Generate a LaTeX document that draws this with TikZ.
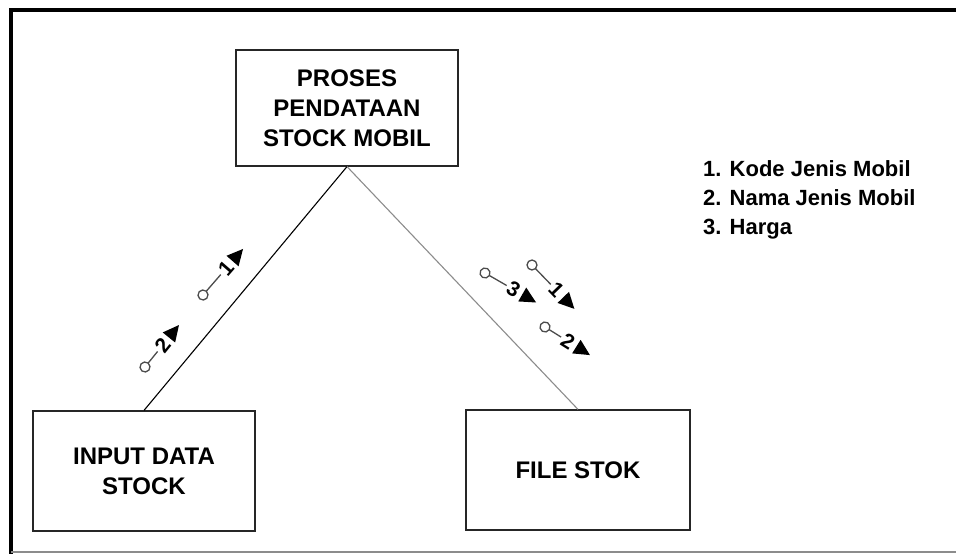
\documentclass[tikz,border=0pt]{standalone}
\usepackage{fontspec}
\setmainfont{Liberation Sans}
\usetikzlibrary{calc}
\begin{document}
\begin{tikzpicture}[x=1pt,y=-1pt,
  box/.style={draw=black!85, line width=1.2pt, rectangle, inner sep=0pt,
    font=\fontsize{24}{30}\selectfont\bfseries, align=center},
  flowline/.style={line width=1.1pt},
  couple gap/.store in=\cgap, couple gap=24pt,
  couple/.pic={
    \draw[black!70, line width=1.3pt] (0,0) circle (5pt);
    \draw[black!70, line width=1.3pt] (5pt,0) -- (\cgap,0);
    \node[font=\fontsize{21}{21}\selectfont\bfseries, inner sep=0pt, transform shape]
      (-num) at ($(\cgap,0)+(8pt,0)$) {\tikzpictext};
    \fill ($(\cgap,0)+(18pt,-8pt)$) -- ($(\cgap,0)+(34pt,0)$)
      -- ($(\cgap,0)+(18pt,8pt)$) -- cycle;
  }]
\useasboundingbox (0,0) rectangle (956,556);

% outer frame (open on the right)
\draw[line width=3.5pt, line cap=rect] (956,10) -- (11,10) -- (11,552);
\draw[black!45, line width=1.5pt] (11,552) -- (956,552);

% process and data boxes
\node[box, minimum width=222pt, minimum height=116pt] (proc) at (347,108)
  {PROSES\\PENDATAAN\\STOCK MOBIL};
\node[box, minimum width=222pt, minimum height=120pt] (inp) at (144,471)
  {INPUT DATA\\STOCK};
\node[box, minimum width=224pt, minimum height=120pt] (file) at (578,470)
  {FILE STOK};

% connectors
\draw[flowline, black] (inp.north) -- (proc.south);
\draw[flowline, black!45] (proc.south) -- (file.north);

% data couples
\pic (l2) [rotate=51, pic text=2, couple gap=20pt] at (145,367) {couple};
\pic (l1) [rotate=49, pic text=1, couple gap=27pt] at (203,295) {couple};
\pic (r3) [rotate=-30, pic text=3, couple gap=25pt] at (485,273) {couple};
\pic (r1) [rotate=-46, pic text=1, couple gap=27pt] at (532,265) {couple};
\pic (r2) [rotate=-32, pic text=2, couple gap=19pt] at (545,327) {couple};

% legend
\node[anchor=west, align=left, inner sep=0pt,
  font=\fontsize{22}{29}\selectfont\bfseries] (legend) at (703,200)
  {1. Kode Jenis Mobil\\2. Nama Jenis Mobil\\3. Harga};
\end{tikzpicture}
\end{document}
